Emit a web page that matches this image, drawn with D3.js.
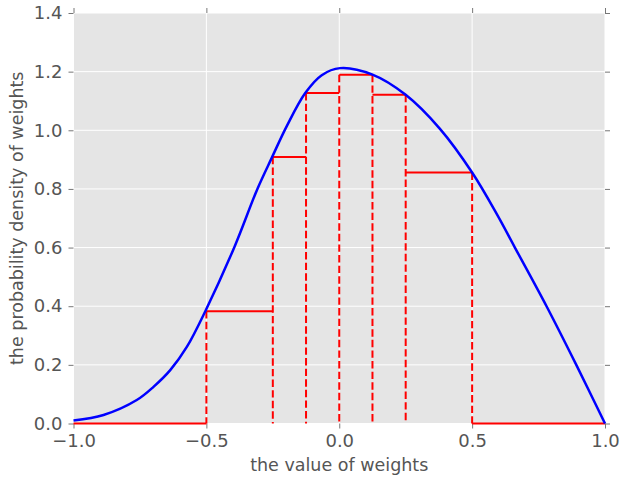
<!DOCTYPE html>
<html>
<head>
<meta charset="utf-8">
<script src="https://cdn.jsdelivr.net/npm/d3@7"></script>
<style>
    body { margin: 0; background: #fff; }
    text { font-family: "DejaVu Sans", sans-serif; fill: #555; }
</style>
</head>
<body>
<svg class="density" width="620" height="481"></svg>
<script>
    // density curve
    const curveX = [-1, -0.887, -0.762, -0.699, -0.636, -0.573, -0.504, -0.394, -0.308, -0.254, -0.197,
        -0.128, -0.066, 0.003, 0.125, 0.25, 0.379, 0.5, 0.593, 0.661, 0.78, 0.892, 1.0];
    const curveY = [0.01, 0.029, 0.08, 0.125, 0.182, 0.262, 0.383, 0.603, 0.8, 0.906, 1.015,
        1.127, 1.188, 1.212, 1.19, 1.121, 1.005, 0.856, 0.714, 0.6, 0.4, 0.2, 0.0];

    // histogram bins
    const binEdges = [-1, -0.5, -0.25, -0.125, 0, 0.125, 0.25, 0.5, 1];
    const binHeights = [0, 0.383, 0.909, 1.127, 1.189, 1.121, 0.856, 0];

    const xTicks = [-1, -0.5, 0, 0.5, 1];
    const yTicks = [0, 0.2, 0.4, 0.6, 0.8, 1.0, 1.2, 1.4];

    const svg = d3.select('svg.density'),
        margin = {
            top: 13,
            right: 15,
            bottom: 57.5,
            left: 73.5
        },
        width = +svg.attr('width') - margin.left - margin.right,
        height = +svg.attr('height') - margin.top - margin.bottom;

    const x = d3.scaleLinear().domain([-1, 1]).range([0, width]);
    const y = d3.scaleLinear().domain([0, 1.4]).range([height, 0]);

    const g = svg.append('g')
        .attr('transform', 'translate(' + margin.left + ',' + margin.top + ')');

    g.append('rect')
        .attr('width', width)
        .attr('height', height)
        .attr('fill', '#e5e5e5');

    // white grid
    g.selectAll('.vgrid')
        .data(xTicks)
        .enter().append('line')
        .attr('x1', (d) => x(d)).attr('x2', (d) => x(d))
        .attr('y1', 0).attr('y2', height)
        .attr('stroke', '#fff').attr('stroke-width', 1);

    g.selectAll('.hgrid')
        .data(yTicks)
        .enter().append('line')
        .attr('x1', 0).attr('x2', width)
        .attr('y1', (d) => y(d)).attr('y2', (d) => y(d))
        .attr('stroke', '#fff').attr('stroke-width', 1);

    const fmt = d3.format('.1f');

    function styleAxis(sel, showText) {
        sel.select('.domain').remove();
        sel.selectAll('.tick line').attr('stroke', '#777');
        sel.selectAll('.tick text')
            .style('font-size', '18px')
            .attr('fill', '#555');
        if (!showText) sel.selectAll('.tick text').remove();
    }

    g.append('g')
        .attr('transform', 'translate(0,' + height + ')')
        .call(d3.axisBottom(x).tickValues(xTicks).tickFormat(fmt).tickSize(5).tickPadding(6))
        .call(styleAxis, true);

    g.append('g')
        .call(d3.axisTop(x).tickValues(xTicks).tickSize(5))
        .call(styleAxis, false);

    g.append('g')
        .call(d3.axisLeft(y).tickValues(yTicks).tickFormat(fmt).tickSize(5).tickPadding(6))
        .call(styleAxis, true);

    g.append('g')
        .attr('transform', 'translate(' + width + ',0)')
        .call(d3.axisRight(y).tickValues(yTicks).tickSize(5))
        .call(styleAxis, false);

    // histogram: dashed sides (one per inner edge, up to the taller neighbour), solid tops
    const bins = binHeights.map((h, i) => ({ x0: binEdges[i], x1: binEdges[i + 1], h: h }));

    const sides = binEdges.slice(1, -1).map((e, i) => ({
        x: e,
        h: Math.max(binHeights[i], binHeights[i + 1])
    }));

    g.selectAll('.side')
        .data(sides)
        .enter().append('line')
        .attr('class', 'side')
        .attr('x1', (d) => x(d.x)).attr('x2', (d) => x(d.x))
        .attr('y1', (d) => y(d.h)).attr('y2', y(0))
        .attr('stroke', '#ff0000')
        .attr('stroke-width', 2)
        .attr('stroke-dasharray', '7.4,3.2');

    g.selectAll('.top')
        .data(bins)
        .enter().append('line')
        .attr('class', 'top')
        .attr('x1', (d) => x(d.x0)).attr('x2', (d) => x(d.x1))
        .attr('y1', (d) => y(d.h)).attr('y2', (d) => y(d.h))
        .attr('stroke', '#ff0000')
        .attr('stroke-width', 2);

    const line = d3.line()
        .x((d) => x(d[0]))
        .y((d) => y(d[1]))
        .curve(d3.curveCatmullRom.alpha(0.5));

    g.append('path')
        .datum(curveX.map((v, i) => [v, curveY[i]]))
        .attr('d', line)
        .attr('fill', 'none')
        .attr('stroke', '#0000ff')
        .attr('stroke-width', 2.5);

    g.append('text')
        .attr('text-anchor', 'middle')
        .attr('x', width / 2)
        .attr('y', height + 47.5)
        .style('font-size', '17.5px')
        .text('the value of weights');

    g.append('text')
        .attr('text-anchor', 'middle')
        .attr('transform', 'translate(' + (23 - margin.left) + ',' + (height / 2) + ')rotate(-90)')
        .style('font-size', '17.5px')
        .text('the probability density of weights');
</script>
</body>
</html>
